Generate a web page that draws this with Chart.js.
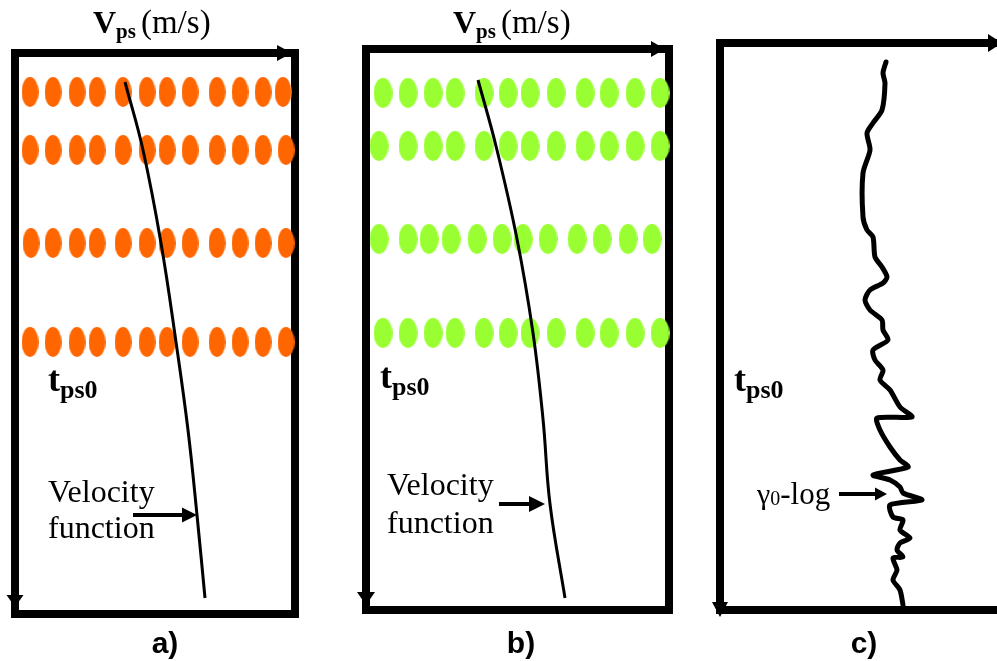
<!DOCTYPE html>
<html>
<head>
<meta charset="utf-8">
<script src="https://cdn.jsdelivr.net/npm/chart.js@4/dist/chart.umd.min.js"></script>
<style>
  html, body { margin: 0; padding: 0; background: #fff; }
  #wrap { position: relative; width: 997px; height: 661px; }
  #wrap canvas { position: absolute; left: 0; top: 0; }
</style>
</head>
<body>
<div id="wrap">
  <canvas id="chartA" width="997" height="661"></canvas>
  <canvas id="chartB" width="997" height="661"></canvas>
  <canvas id="chartC" width="997" height="661"></canvas>
</div>
<script>
// all values in px from the top-left corner of each frame
// (velocity grows to the right, time grows downwards)

// a) velocity picks on four time lines
const timesA = [39, 97, 190, 289];
const picksA = [
  [15, 38, 62, 82, 108, 132, 152, 175, 202, 225, 248, 268],
  [15, 38, 62, 82, 108, 132, 152, 175, 202, 225, 248, 271],
  [16, 38, 62, 82, 108, 132, 152, 175, 202, 225, 248, 271],
  [15, 38, 62, 82, 108, 132, 152, 175, 202, 225, 248, 271]
];
const velFnA_v = [110, 128, 146, 161, 173, 182, 190];
const velFnA_t = [29, 97, 190, 289, 377, 462, 545];

// b) velocity picks on four time lines
const timesB = [44, 97, 190, 284];
const picksB = [
  [17, 42, 67, 89, 118, 142, 164, 190, 219, 243, 269, 294],
  [13, 42, 67, 89, 118, 142, 164, 190, 219, 243, 269, 294],
  [13, 42, 63, 85, 111, 136, 157, 182, 211, 236, 262, 286],
  [17, 42, 67, 89, 118, 142, 164, 190, 219, 243, 269, 294]
];
const velFnB_v = [112, 130, 151, 167, 177, 184, 199];
const velFnB_t = [31, 97, 190, 284, 370, 455, 549];

// c) gamma0 log
const gammaLog_v = [166, 163, 165, 162, 153, 147, 150, 143, 143, 147, 153, 155, 162, 167, 163, 150,
  145, 150, 162, 163, 168, 153, 155, 163, 160, 170, 180, 192, 157, 160, 170, 180, 188, 153, 170,
  180, 183, 202, 170, 173, 183, 180, 190, 180, 177, 183, 173, 177, 173, 180, 183];
const gammaLog_t = [19, 30, 40, 67, 80, 90, 107, 130, 174, 187, 194, 214, 224, 234, 240, 247,
  257, 267, 277, 287, 297, 307, 317, 327, 337, 347, 364, 374, 375, 387, 404, 417, 424, 432, 437,
  444, 450, 457, 462, 474, 477, 487, 495, 500, 507, 514, 515, 527, 537, 547, 562];

const SERIF = '"Liberation Serif", "Times New Roman", serif';
const SANS = '"Liberation Sans Narrow", "Liberation Sans", Arial, sans-serif';

function ellipse(w, h, color) {
    const c = document.createElement("canvas");
    c.width = w; c.height = h;
    const g = c.getContext("2d");
    g.fillStyle = color;
    g.beginPath();
    g.ellipse(w / 2, h / 2, w / 2, h / 2, 0, 0, Math.PI * 2);
    g.fill();
    return c;
}

const toPts = (xs, ys) => xs.map((v, i) => ({ x: v, y: ys[i] }));
const gridPts = (rows, times) => rows.flatMap((row, i) => row.map(v => ({ x: v, y: times[i] })));

function axis(position, extra) {
    return Object.assign({
        type: "linear", position, display: true,
        grid: { display: false, drawTicks: false, tickLength: 0, lineWidth: 8 },
        ticks: { display: false, padding: 0 },
        border: { display: true, width: 8, color: "#000" }
    }, extra);
}

// text runs: [text, font, dy, dx]
function drawRuns(ctx, x, y, runs) {
    ctx.textBaseline = "alphabetic";
    ctx.textAlign = "left";
    runs.forEach(([text, font, dy, dx]) => {
        x += dx || 0;
        ctx.font = font;
        ctx.fillText(text, x, y + (dy || 0));
        x += ctx.measureText(text).width;
    });
}

function arrow(ctx, x1, y1, x2, y2, w, len, half) {
    const a = Math.atan2(y2 - y1, x2 - x1);
    ctx.save();
    ctx.strokeStyle = "#000"; ctx.fillStyle = "#000"; ctx.lineWidth = w;
    ctx.beginPath();
    ctx.moveTo(x1, y1);
    ctx.lineTo(x2 - Math.cos(a) * len, y2 - Math.sin(a) * len);
    ctx.stroke();
    ctx.translate(x2, y2); ctx.rotate(a);
    ctx.beginPath();
    ctx.moveTo(0, 0); ctx.lineTo(-len, -half); ctx.lineTo(-len, half);
    ctx.closePath(); ctx.fill();
    ctx.restore();
}

const notesPlugin = {
    id: "notes",
    afterDraw(chart, args, opts) {
        const { ctx, chartArea: ca } = chart;
        const sx = chart.scales.x, sy = chart.scales.y;
        const px = v => sx.getPixelForValue(v), py = v => sy.getPixelForValue(v);
        ctx.save();
        ctx.fillStyle = "#000";
        // frame arrowheads
        const r = opts.right, d = opts.down;
        ctx.beginPath();
        ctx.moveTo(ca.right + r.tip, ca.top);
        ctx.lineTo(ca.right + r.tip - r.len, ca.top - r.half);
        ctx.lineTo(ca.right + r.tip - r.len, ca.top + r.half);
        ctx.closePath(); ctx.fill();
        ctx.beginPath();
        ctx.moveTo(ca.left, ca.bottom + d.tip);
        ctx.lineTo(ca.left - d.half, ca.bottom + d.tip - d.len);
        ctx.lineTo(ca.left + d.half, ca.bottom + d.tip - d.len);
        ctx.closePath(); ctx.fill();
        // texts
        opts.texts.forEach(t => drawRuns(ctx, px(t.x), py(t.y), t.runs));
        const p = opts.panel;
        ctx.font = "bold 30px " + SANS;
        ctx.textAlign = "center";
        ctx.fillText(p.text, px(p.x), py(p.y));
        const a = opts.arrow;
        arrow(ctx, px(a.x1), py(a.y), px(a.x2), py(a.y), 4, a.len, a.half);
        ctx.restore();
    }
};

const titleRuns = [
    ["V", "bold 32px " + SERIF],
    ["ps", "bold 21px " + SERIF, 5],
    ["(m/s)", "33px " + SERIF, 0, 5]
];
const tps0Runs = [
    ["t", "bold 36px " + SERIF],
    ["ps0", "bold 26px " + SERIF, 7]
];

function makeChart(id, pad, W, H, datasets, notes, withRight) {
    const scales = {
        x: axis("top", { min: 0, max: W }),
        y: axis("left", { min: 0, max: H, reverse: true }),
        x2: axis("bottom", { axis: "x", min: 0, max: W })
    };
    if (withRight) scales.y2 = axis("right", { axis: "y", min: 0, max: H, reverse: true });
    return new Chart(document.getElementById(id), {
        type: "scatter",
        data: { datasets },
        options: {
            responsive: false, animation: false, events: [],
            layout: { padding: pad },
            scales,
            plugins: { legend: { display: false }, tooltip: { enabled: false }, notes }
        },
        plugins: [notesPlugin]
    });
}

const velLine = (xs, ys) => ({
    data: toPts(xs, ys), showLine: true, borderColor: "#000", borderWidth: 3,
    pointRadius: 0, tension: 0.4, clip: false
});
const dots = (rows, times, img) => ({
    data: gridPts(rows, times), pointStyle: img, pointRadius: 8, clip: false
});

/* a) */
makeChart("chartA", { left: 15, top: 53, right: 702, bottom: 47 }, 280, 561, [
    velLine(velFnA_v, velFnA_t),
    dots(picksA, timesA, ellipse(17, 30, "#FF6600"))
], {
    right: { tip: -3, len: 15, half: 8 },
    down: { tip: -7, len: 12, half: 8.5 },
    texts: [
        { x: 78, y: -20, runs: titleRuns },
        { x: 33, y: 338, runs: tps0Runs },
        { x: 33, y: 449, runs: [["Velocity", "32px " + SERIF]] },
        { x: 33, y: 485, runs: [["function", "32px " + SERIF]] }
    ],
    arrow: { x1: 118, x2: 182, y: 462, len: 15, half: 7.5 },
    panel: { text: "a)", x: 150, y: 600 }
}, true);

/* b) */
makeChart("chartB", { left: 366, top: 49, right: 328, bottom: 51 }, 303, 561, [
    velLine(velFnB_v, velFnB_t),
    dots(picksB, timesB, ellipse(19, 30, "#99FF33"))
], {
    right: { tip: -4, len: 14, half: 8 },
    down: { tip: -5, len: 13, half: 9 },
    texts: [
        { x: 87, y: -16, runs: titleRuns },
        { x: 14, y: 339, runs: tps0Runs },
        { x: 21, y: 446, runs: [["Velocity", "32px " + SERIF]] },
        { x: 21, y: 484, runs: [["function", "32px " + SERIF]] }
    ],
    arrow: { x1: 133, x2: 179, y: 455, len: 16, half: 8 },
    panel: { text: "b)", x: 155, y: 604 }
}, true);

/* c) */
makeChart("chartC", { left: 720, top: 43, right: 0, bottom: 51 }, 277, 567, [
    {
        data: toPts(gammaLog_v, gammaLog_t), showLine: true, borderColor: "#000", borderWidth: 5,
        borderJoinStyle: "round", borderCapStyle: "round", pointRadius: 0, tension: 0.25, clip: false
    }
], {
    right: { tip: 5, len: 14, half: 9 },
    down: { tip: 7, len: 15, half: 8 },
    texts: [
        { x: 14, y: 348, runs: tps0Runs },
        { x: 37, y: 461, runs: [["\u03B3", "30px " + SERIF], ["0", "20px " + SERIF, 1], ["-log", "31px " + SERIF]] }
    ],
    arrow: { x1: 119, x2: 167, y: 451, len: 12, half: 6.5 },
    panel: { text: "c)", x: 144, y: 610 }
}, false);
</script>
</body>
</html>
